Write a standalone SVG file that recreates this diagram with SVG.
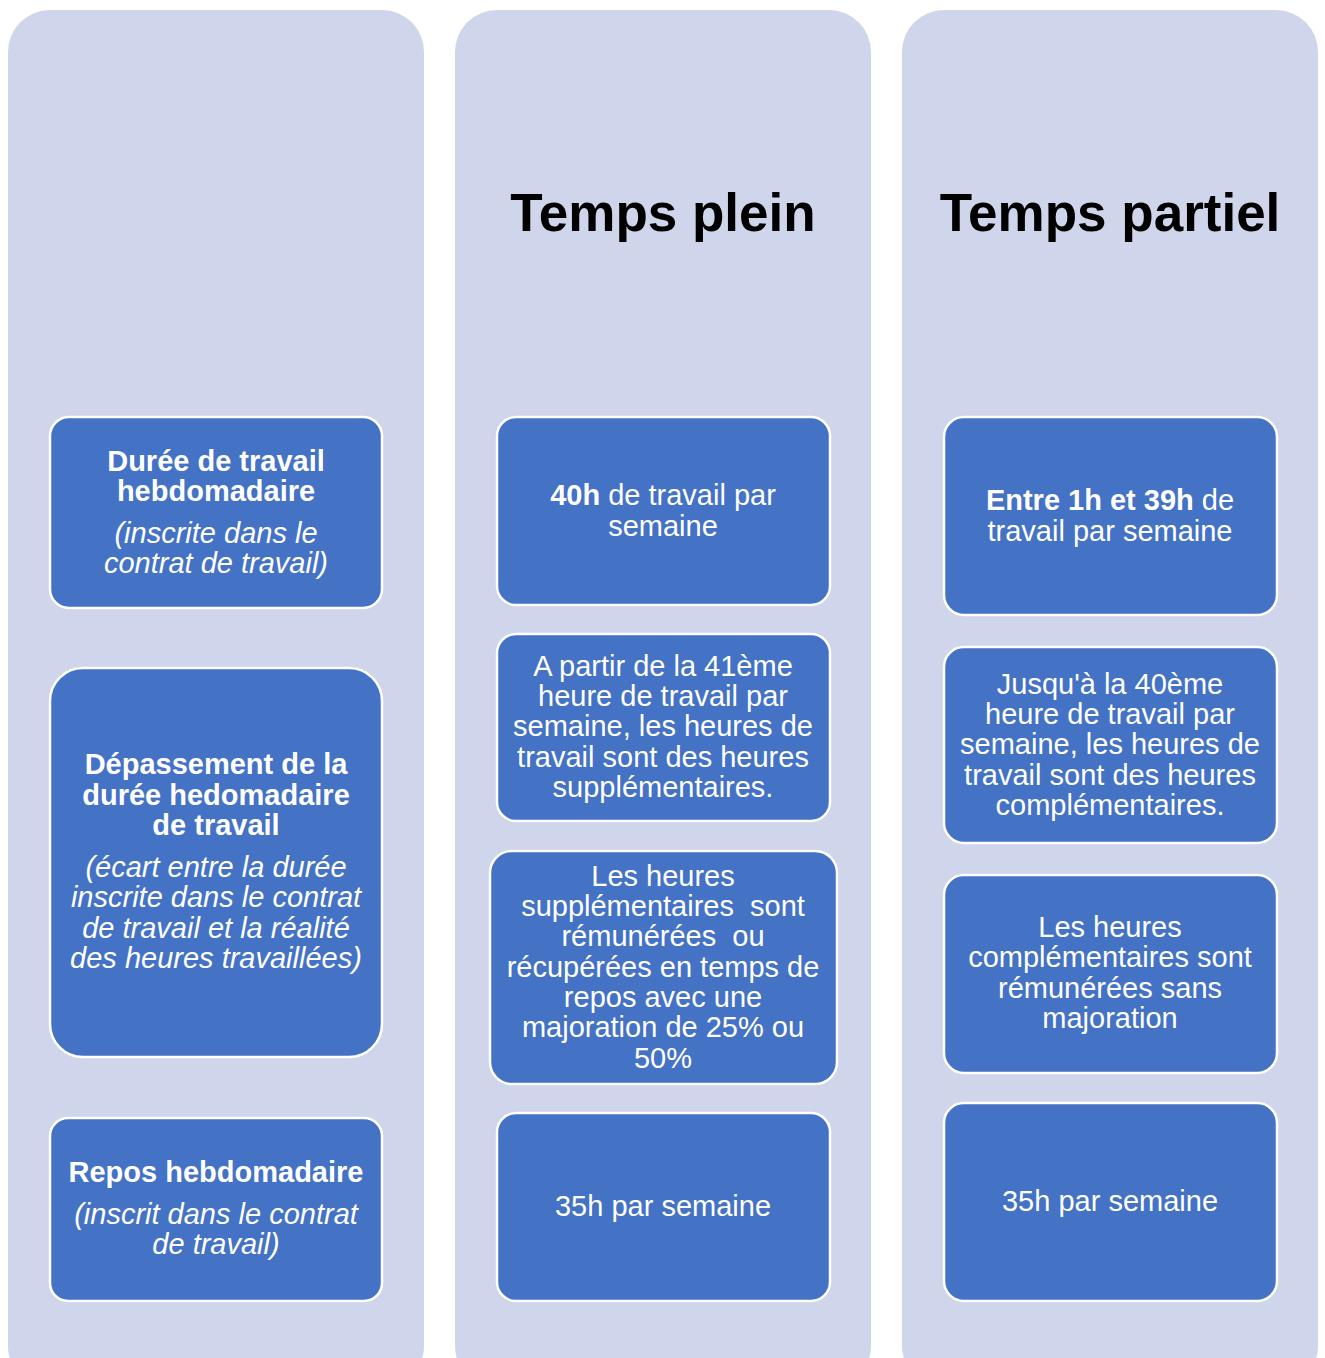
<svg xmlns="http://www.w3.org/2000/svg" width="1325" height="1358" viewBox="0 0 1325 1358">
<style>
.col{fill:#CFD5EA}
.box{fill:#4472C4;stroke:#FFFFFF;stroke-width:2.5}
.t{font-family:"Liberation Sans",Arial,sans-serif;font-size:29px;fill:#FFFFFF;text-anchor:middle;white-space:pre}
.b{font-weight:bold}
.i{font-style:italic}
.h{font-family:"Liberation Sans",Arial,sans-serif;font-size:53px;font-weight:bold;fill:#000000;text-anchor:middle}
</style>
<rect width="1325" height="1358" fill="#FFFFFF"/>
<g id="columns">
<rect class="col" x="8" y="10" width="416" height="1378" rx="42"/>
<rect class="col" x="455" y="10" width="416" height="1378" rx="42"/>
<rect class="col" x="902" y="10" width="416" height="1378" rx="42"/>
</g>
<g id="title-plein"><text class="h" x="663" y="231">Temps plein</text></g>
<g id="title-partiel"><text class="h" x="1110" y="231">Temps partiel</text></g>
<g id="connectors"></g>

<g id="n-duree">
<rect class="box" x="50" y="417" width="332" height="191" rx="19"/>
<text class="t b" x="216" y="471">Durée de travail</text>
<text class="t b" x="216" y="501">hebdomadaire</text>
<text class="t i" x="216" y="543">(inscrite dans le</text>
<text class="t i" x="216" y="573">contrat de travail)</text>
</g>
<g id="n-depassement">
<rect class="box" x="50" y="668" width="332" height="389" rx="33"/>
<text class="t b" x="216" y="774">Dépassement de la</text>
<text class="t b" x="216" y="805">durée hedomadaire</text>
<text class="t b" x="216" y="835">de travail</text>
<text class="t i" x="216" y="877">(écart entre la durée</text>
<text class="t i" x="216" y="907">inscrite dans le contrat</text>
<text class="t i" x="216" y="938">de travail et la réalité</text>
<text class="t i" x="216" y="968">des heures travaillées)</text>
</g>
<g id="n-repos">
<rect class="box" x="50" y="1118" width="332" height="183" rx="18"/>
<text class="t b" x="216" y="1182">Repos hebdomadaire</text>
<text class="t i" x="216" y="1224">(inscrit dans le contrat</text>
<text class="t i" x="216" y="1254">de travail)</text>
</g>

<g id="p-40h">
<rect class="box" x="497" y="417" width="333" height="188" rx="19"/>
<text class="t" x="663" y="505"><tspan class="b">40h</tspan> de travail par</text>
<text class="t" x="663" y="536">semaine</text>
</g>
<g id="p-41">
<rect class="box" x="497" y="634" width="333" height="187" rx="19"/>
<text class="t" x="663" y="676">A partir de la 41ème</text>
<text class="t" x="663" y="706">heure de travail par</text>
<text class="t" x="663" y="736">semaine, les heures de</text>
<text class="t" x="663" y="767">travail sont des heures</text>
<text class="t" x="663" y="797">supplémentaires.</text>
</g>
<g id="p-sup">
<rect class="box" x="490" y="851" width="347" height="233" rx="22"/>
<text class="t" x="663" y="886">Les heures</text>
<text class="t" x="663" y="916">supplémentaires  sont</text>
<text class="t" x="663" y="946">rémunérées  ou</text>
<text class="t" x="663" y="977">récupérées en temps de</text>
<text class="t" x="663" y="1007">repos avec une</text>
<text class="t" x="663" y="1037">majoration de 25% ou</text>
<text class="t" x="663" y="1068">50%</text>
</g>
<g id="p-35h">
<rect class="box" x="497" y="1113" width="333" height="188" rx="19"/>
<text class="t" x="663" y="1216">35h par semaine</text>
</g>

<g id="q-1-39">
<rect class="box" x="944" y="417" width="333" height="198" rx="20"/>
<text class="t" x="1110" y="510"><tspan class="b">Entre 1h et 39h</tspan> de</text>
<text class="t" x="1110" y="541">travail par semaine</text>
</g>
<g id="q-40">
<rect class="box" x="944" y="647" width="333" height="196" rx="20"/>
<text class="t" x="1110" y="694">Jusqu'à la 40ème</text>
<text class="t" x="1110" y="724">heure de travail par</text>
<text class="t" x="1110" y="754">semaine, les heures de</text>
<text class="t" x="1110" y="785">travail sont des heures</text>
<text class="t" x="1110" y="815">complémentaires.</text>
</g>
<g id="q-comp">
<rect class="box" x="944" y="875" width="333" height="198" rx="20"/>
<text class="t" x="1110" y="937">Les heures</text>
<text class="t" x="1110" y="967">complémentaires sont</text>
<text class="t" x="1110" y="998">rémunérées sans</text>
<text class="t" x="1110" y="1028">majoration</text>
</g>
<g id="q-35h">
<rect class="box" x="944" y="1103" width="333" height="198" rx="20"/>
<text class="t" x="1110" y="1211">35h par semaine</text>
</g>
</svg>
